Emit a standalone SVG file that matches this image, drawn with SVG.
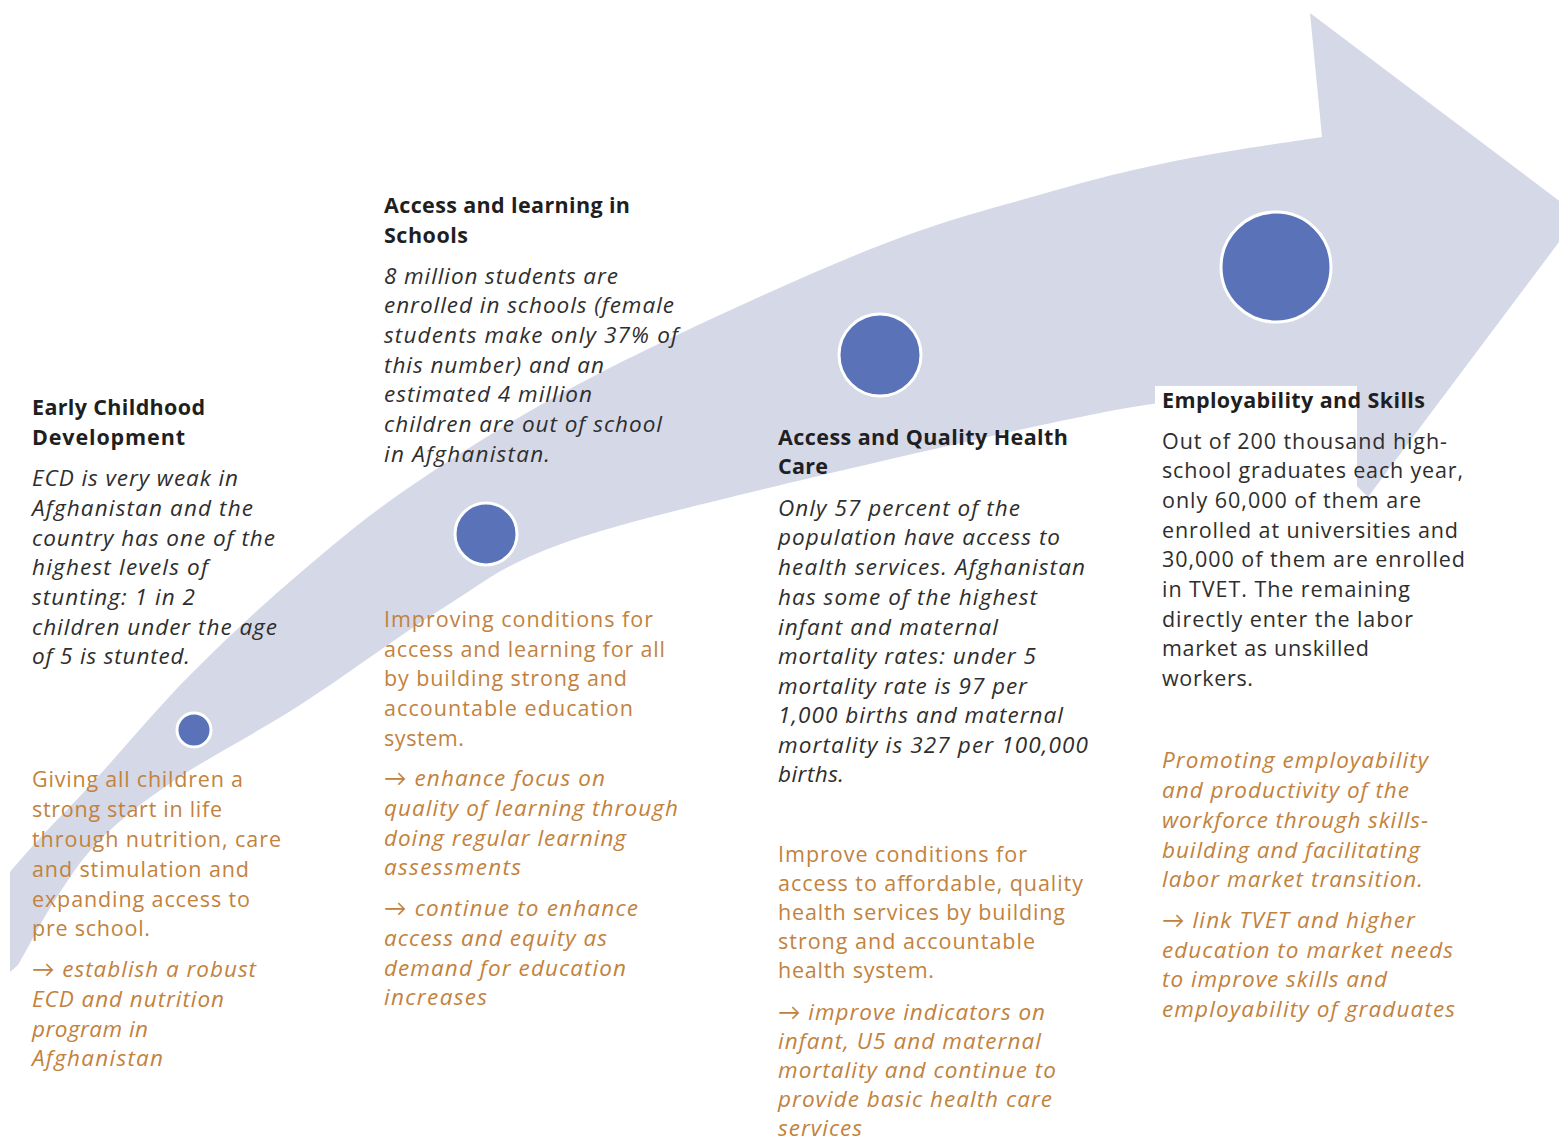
<svg xmlns="http://www.w3.org/2000/svg" width="1559" height="1146" viewBox="0 0 1559 1146">
<style>
  text { font-family: "Open Sans", Lato, "Liberation Sans", sans-serif; font-size: 21.5px; }
  .hd { font-weight: bold; fill: #1f1f1f; }
  .it { font-style: italic; fill: #2e2e2e; font-size: 22.5px; }
  .rg { fill: #2e2e2e; }
  .or { fill: #c2823d; }
  .oi { fill: #c2823d; font-style: italic; font-size: 22.5px; }
  .dot { fill: #5a72b8; stroke: #ffffff; stroke-width: 3; }
  .band { fill: #d5d8e7; }
</style>
<rect x="0" y="0" width="1559" height="1146" fill="#ffffff"/>

<g id="connectors">
  <path class="band" d="M10,872 C15,866 25.8,853.3 40,838 C54.2,822.7 70,807.2 95,780 C120,752.8 155.8,709.5 190,675 C224.2,640.5 261.7,605.5 300,573 C338.3,540.5 370,513.3 420,480 C470,446.7 525.3,411.3 600,373 C674.7,334.7 793.7,280 868,250 C942.3,220 994,208 1046,193 C1098,178 1134,169.3 1180,160 C1226,150.7 1298.3,140.8 1322,137 L1310,13 L1562,203 L1562,238 L1368,497 L1262,392 C1235,395.5 1183.7,396.7 1100,413 C1016.3,429.3 851.2,467.7 760,490 C668.8,512.3 606.3,527 553,547 C499.7,567 482.2,583.7 440,610 C397.8,636.3 344.2,676.7 300,705 C255.8,733.3 208.3,757.5 175,780 C141.7,802.5 120,820 100,840 C80,860 68.7,879.2 55,900 C41.3,920.8 25.5,953 18,965 L10,972 Z"/>
</g>

<g id="node-ecd">
  <circle class="dot" cx="194" cy="730" r="17"/>
  <text class="hd" x="32" y="415" textLength="173" lengthAdjust="spacing">Early Childhood</text>
  <text class="hd" x="32" y="445" textLength="153" lengthAdjust="spacing">Development</text>
  <text class="it" x="32" y="486" textLength="206" lengthAdjust="spacing">ECD is very weak in</text>
  <text class="it" x="32" y="516" textLength="221" lengthAdjust="spacing">Afghanistan and the</text>
  <text class="it" x="32" y="546" textLength="243" lengthAdjust="spacing">country has one of the</text>
  <text class="it" x="32" y="575" textLength="176" lengthAdjust="spacing">highest levels of</text>
  <text class="it" x="32" y="605" textLength="163" lengthAdjust="spacing">stunting: 1 in 2</text>
  <text class="it" x="32" y="635" textLength="245" lengthAdjust="spacing">children under the age</text>
  <text class="it" x="32" y="664" textLength="158" lengthAdjust="spacing">of 5 is stunted.</text>
  <text class="or" x="32" y="787" textLength="211" lengthAdjust="spacing">Giving all children a</text>
  <text class="or" x="32" y="817" textLength="190" lengthAdjust="spacing">strong start in life</text>
  <text class="or" x="32" y="847" textLength="249" lengthAdjust="spacing">through nutrition, care</text>
  <text class="or" x="32" y="877" textLength="217" lengthAdjust="spacing">and stimulation and</text>
  <text class="or" x="32" y="907" textLength="218" lengthAdjust="spacing">expanding access to</text>
  <text class="or" x="32" y="936" textLength="118" lengthAdjust="spacing">pre school.</text>
  <text class="oi" x="32" y="977" textLength="224" lengthAdjust="spacing">→ establish a robust</text>
  <text class="oi" x="32" y="1007" textLength="192" lengthAdjust="spacing">ECD and nutrition</text>
  <text class="oi" x="32" y="1037" textLength="116" lengthAdjust="spacing">program in</text>
  <text class="oi" x="32" y="1066" textLength="131" lengthAdjust="spacing">Afghanistan</text>
</g>

<g id="node-schools">
  <circle class="dot" cx="486" cy="534" r="31"/>
  <text class="hd" x="384" y="213" textLength="246" lengthAdjust="spacing">Access and learning in</text>
  <text class="hd" x="384" y="243" textLength="84" lengthAdjust="spacing">Schools</text>
  <text class="it" x="384" y="284" textLength="234" lengthAdjust="spacing">8 million students are</text>
  <text class="it" x="384" y="313" textLength="290" lengthAdjust="spacing">enrolled in schools (female</text>
  <text class="it" x="384" y="343" textLength="294" lengthAdjust="spacing">students make only 37% of</text>
  <text class="it" x="384" y="373" textLength="220" lengthAdjust="spacing">this number) and an</text>
  <text class="it" x="384" y="402" textLength="208" lengthAdjust="spacing">estimated 4 million</text>
  <text class="it" x="384" y="432" textLength="278" lengthAdjust="spacing">children are out of school</text>
  <text class="it" x="384" y="462" textLength="166" lengthAdjust="spacing">in Afghanistan.</text>
  <text class="or" x="384" y="627" textLength="269" lengthAdjust="spacing">Improving conditions for</text>
  <text class="or" x="384" y="657" textLength="281" lengthAdjust="spacing">access and learning for all</text>
  <text class="or" x="384" y="686" textLength="243" lengthAdjust="spacing">by building strong and</text>
  <text class="or" x="384" y="716" textLength="249" lengthAdjust="spacing">accountable education</text>
  <text class="or" x="384" y="746" textLength="80" lengthAdjust="spacing">system.</text>
  <text class="oi" x="384" y="786" textLength="221" lengthAdjust="spacing">→ enhance focus on</text>
  <text class="oi" x="384" y="816" textLength="294" lengthAdjust="spacing">quality of learning through</text>
  <text class="oi" x="384" y="846" textLength="242" lengthAdjust="spacing">doing regular learning</text>
  <text class="oi" x="384" y="875" textLength="137" lengthAdjust="spacing">assessments</text>
  <text class="oi" x="384" y="916" textLength="254" lengthAdjust="spacing">→ continue to enhance</text>
  <text class="oi" x="384" y="946" textLength="223" lengthAdjust="spacing">access and equity as</text>
  <text class="oi" x="384" y="976" textLength="242" lengthAdjust="spacing">demand for education</text>
  <text class="oi" x="384" y="1005" textLength="103" lengthAdjust="spacing">increases</text>
</g>

<g id="node-health">
  <circle class="dot" cx="880" cy="355" r="41"/>
  <text class="hd" x="778" y="445" textLength="290" lengthAdjust="spacing">Access and Quality Health</text>
  <text class="hd" x="778" y="474" textLength="50" lengthAdjust="spacing">Care</text>
  <text class="it" x="778" y="516" textLength="242" lengthAdjust="spacing">Only 57 percent of the</text>
  <text class="it" x="778" y="545" textLength="282" lengthAdjust="spacing">population have access to</text>
  <text class="it" x="778" y="575" textLength="307" lengthAdjust="spacing">health services. Afghanistan</text>
  <text class="it" x="778" y="605" textLength="259" lengthAdjust="spacing">has some of the highest</text>
  <text class="it" x="778" y="635" textLength="220" lengthAdjust="spacing">infant and maternal</text>
  <text class="it" x="778" y="664" textLength="258" lengthAdjust="spacing">mortality rates: under 5</text>
  <text class="it" x="778" y="694" textLength="249" lengthAdjust="spacing">mortality rate is 97 per</text>
  <text class="it" x="778" y="723" textLength="285" lengthAdjust="spacing">1,000 births and maternal</text>
  <text class="it" x="778" y="753" textLength="310" lengthAdjust="spacing">mortality is 327 per 100,000</text>
  <text class="it" x="778" y="782" textLength="66" lengthAdjust="spacing">births.</text>
  <text class="or" x="778" y="862" textLength="249" lengthAdjust="spacing">Improve conditions for</text>
  <text class="or" x="778" y="891" textLength="305" lengthAdjust="spacing">access to affordable, quality</text>
  <text class="or" x="778" y="920" textLength="287" lengthAdjust="spacing">health services by building</text>
  <text class="or" x="778" y="949" textLength="257" lengthAdjust="spacing">strong and accountable</text>
  <text class="or" x="778" y="978" textLength="156" lengthAdjust="spacing">health system.</text>
  <text class="oi" x="778" y="1020" textLength="267" lengthAdjust="spacing">→ improve indicators on</text>
  <text class="oi" x="778" y="1049" textLength="263" lengthAdjust="spacing">infant, U5 and maternal</text>
  <text class="oi" x="778" y="1078" textLength="278" lengthAdjust="spacing">mortality and continue to</text>
  <text class="oi" x="778" y="1107" textLength="274" lengthAdjust="spacing">provide basic health care</text>
  <text class="oi" x="778" y="1136" textLength="84" lengthAdjust="spacing">services</text>
</g>

<g id="node-skills">
  <circle class="dot" cx="1276" cy="267" r="55"/>
  <rect x="1155" y="386" width="202" height="310" fill="#ffffff"/>
  <text class="hd" x="1162" y="408" textLength="263" lengthAdjust="spacing">Employability and Skills</text>
  <text class="rg" x="1162" y="449" textLength="285" lengthAdjust="spacing">Out of 200 thousand high-</text>
  <text class="rg" x="1162" y="478" textLength="301" lengthAdjust="spacing">school graduates each year,</text>
  <text class="rg" x="1162" y="508" textLength="259" lengthAdjust="spacing">only 60,000 of them are</text>
  <text class="rg" x="1162" y="538" textLength="296" lengthAdjust="spacing">enrolled at universities and</text>
  <text class="rg" x="1162" y="567" textLength="303" lengthAdjust="spacing">30,000 of them are enrolled</text>
  <text class="rg" x="1162" y="597" textLength="248" lengthAdjust="spacing">in TVET. The remaining</text>
  <text class="rg" x="1162" y="627" textLength="251" lengthAdjust="spacing">directly enter the labor</text>
  <text class="rg" x="1162" y="656" textLength="207" lengthAdjust="spacing">market as unskilled</text>
  <text class="rg" x="1162" y="686" textLength="91" lengthAdjust="spacing">workers.</text>
  <text class="oi" x="1162" y="768" textLength="266" lengthAdjust="spacing">Promoting employability</text>
  <text class="oi" x="1162" y="798" textLength="247" lengthAdjust="spacing">and productivity of the</text>
  <text class="oi" x="1162" y="828" textLength="266" lengthAdjust="spacing">workforce through skills-</text>
  <text class="oi" x="1162" y="858" textLength="258" lengthAdjust="spacing">building and facilitating</text>
  <text class="oi" x="1162" y="887" textLength="261" lengthAdjust="spacing">labor market transition.</text>
  <text class="oi" x="1162" y="928" textLength="253" lengthAdjust="spacing">→ link TVET and higher</text>
  <text class="oi" x="1162" y="958" textLength="291" lengthAdjust="spacing">education to market needs</text>
  <text class="oi" x="1162" y="987" textLength="225" lengthAdjust="spacing">to improve skills and</text>
  <text class="oi" x="1162" y="1017" textLength="293" lengthAdjust="spacing">employability of graduates</text>
</g>
</svg>
